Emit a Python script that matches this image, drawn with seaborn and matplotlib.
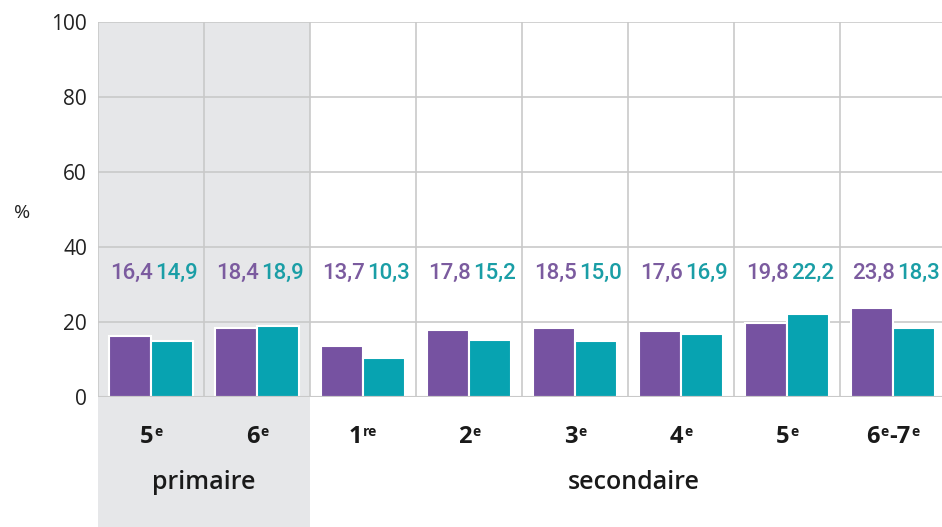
import matplotlib
matplotlib.use("Agg")
import matplotlib.pyplot as plt
from matplotlib.patches import Rectangle
from matplotlib.offsetbox import TextArea, HPacker, AnnotationBbox
import matplotlib.transforms as mtransforms
import seaborn as sns
import pandas as pd

# Grade levels: keys, and tick labels split into (text, superscript) pieces
grades = ["5e", "6e", "1re", "2e", "3e", "4e", "5e ", "6e-7e"]
grade_parts = [
    [("5", "e")], [("6", "e")], [("1", "re")], [("2", "e")],
    [("3", "e")], [("4", "e")], [("5", "e")], [("6", "e"), ("-7", "e")],
]
series_names = ["A", "B"]
values_a = [16.4, 18.4, 13.7, 17.8, 18.5, 17.6, 19.8, 23.8]
values_b = [14.9, 18.9, 10.3, 15.2, 15.0, 16.9, 22.2, 18.3]
y_ticks = [0, 20, 40, 60, 80, 100]
groups = [("primaire", 0.5), ("secondaire", 4.55)]

purple = "#7652a1"
teal = "#07a3b1"
label_purple = "#7b5b9f"
label_teal = "#1a9ea6"
gray_bg = "#e6e7e9"
grid_col = "#c9c9c9"
text_col = "#1a1a1a"

sns.set_theme(style="white")
plt.rcParams["font.family"] = ["Open Sans", "DejaVu Sans"]

df = pd.DataFrame({
    "grade": grades * 2,
    "serie": [series_names[0]] * len(grades) + [series_names[1]] * len(grades),
    "value": values_a + values_b,
})

fig = plt.figure(figsize=(9.42, 5.27), dpi=100)
ax = fig.add_axes([98 / 942, 1 - 397 / 527, 848 / 942, 375 / 527])

sns.barplot(data=df, x="grade", y="value", hue="serie", order=grades,
            hue_order=series_names, palette=[purple, teal], saturation=1,
            width=0.8, edgecolor="white", linewidth=1.5, legend=False,
            ax=ax, zorder=3)

ax.set_xlim(-0.5, len(grades) - 0.5)
ax.set_ylim(0, 100)

# shaded primary-school block, running down through the labels
trans = mtransforms.blended_transform_factory(ax.transData, ax.transAxes)
ax.add_patch(Rectangle((-0.5, -0.5), 2, 1.5, transform=trans, facecolor=gray_bg,
                       edgecolor="none", clip_on=False, zorder=0))

for y in y_ticks[1:]:
    ax.axhline(y, color=grid_col, lw=1.2, zorder=1)
ax.axhline(0, color=grid_col, lw=1.5, zorder=4)
for x in range(len(grades) + 1):
    ax.axvline(x - 0.5, color=grid_col, lw=1.2, zorder=1)

for s in ax.spines.values():
    s.set_visible(False)

# value labels above the bars
val_font = dict(family=["Roboto", "DejaVu Sans"], fontsize=16, fontweight="medium",
                ha="center", va="center", zorder=5)
for i, (a, b) in enumerate(zip(values_a, values_b)):
    ax.text(i - 0.18, 33, f"{a:.1f}".replace(".", ","), color=label_purple, **val_font)
    ax.text(i + 0.24, 33, f"{b:.1f}".replace(".", ","), color=label_teal, **val_font)

ax.set_yticks(y_ticks)
ax.set_yticklabels([str(t) for t in y_ticks], fontsize=15, color="#222222")
ax.tick_params(axis="y", length=0, pad=8)
ax.set_xticks(range(len(grades)))
ax.set_xticklabels([])
ax.tick_params(axis="x", length=0)
ax.set_xlabel("")
ax.set_ylabel("")

# grade labels with small raised ordinal suffixes
for i, parts in enumerate(grade_parts):
    boxes = []
    for main, sup in parts:
        boxes.append(TextArea(main, textprops=dict(fontsize=17, fontweight="bold",
                                                   color=text_col)))
        boxes.append(TextArea(sup, textprops=dict(fontsize=10, fontweight="bold",
                                                  color=text_col)))
    packed = HPacker(children=boxes, align="top", pad=0, sep=0.5)
    ab = AnnotationBbox(packed, (i, -0.107), xycoords=trans, frameon=False,
                        box_alignment=(0.5, 0.5), annotation_clip=False)
    ax.add_artist(ab)

fig.text(22 / 942, 1 - 213 / 527, "%", fontsize=14, ha="center", va="center",
         color="#222222")

for name, xc in groups:
    ax.text(xc, -0.229, name, transform=trans, ha="center", va="center",
            fontsize=18, fontweight="semibold", color=text_col)

fig.savefig("out.png", dpi=100)
